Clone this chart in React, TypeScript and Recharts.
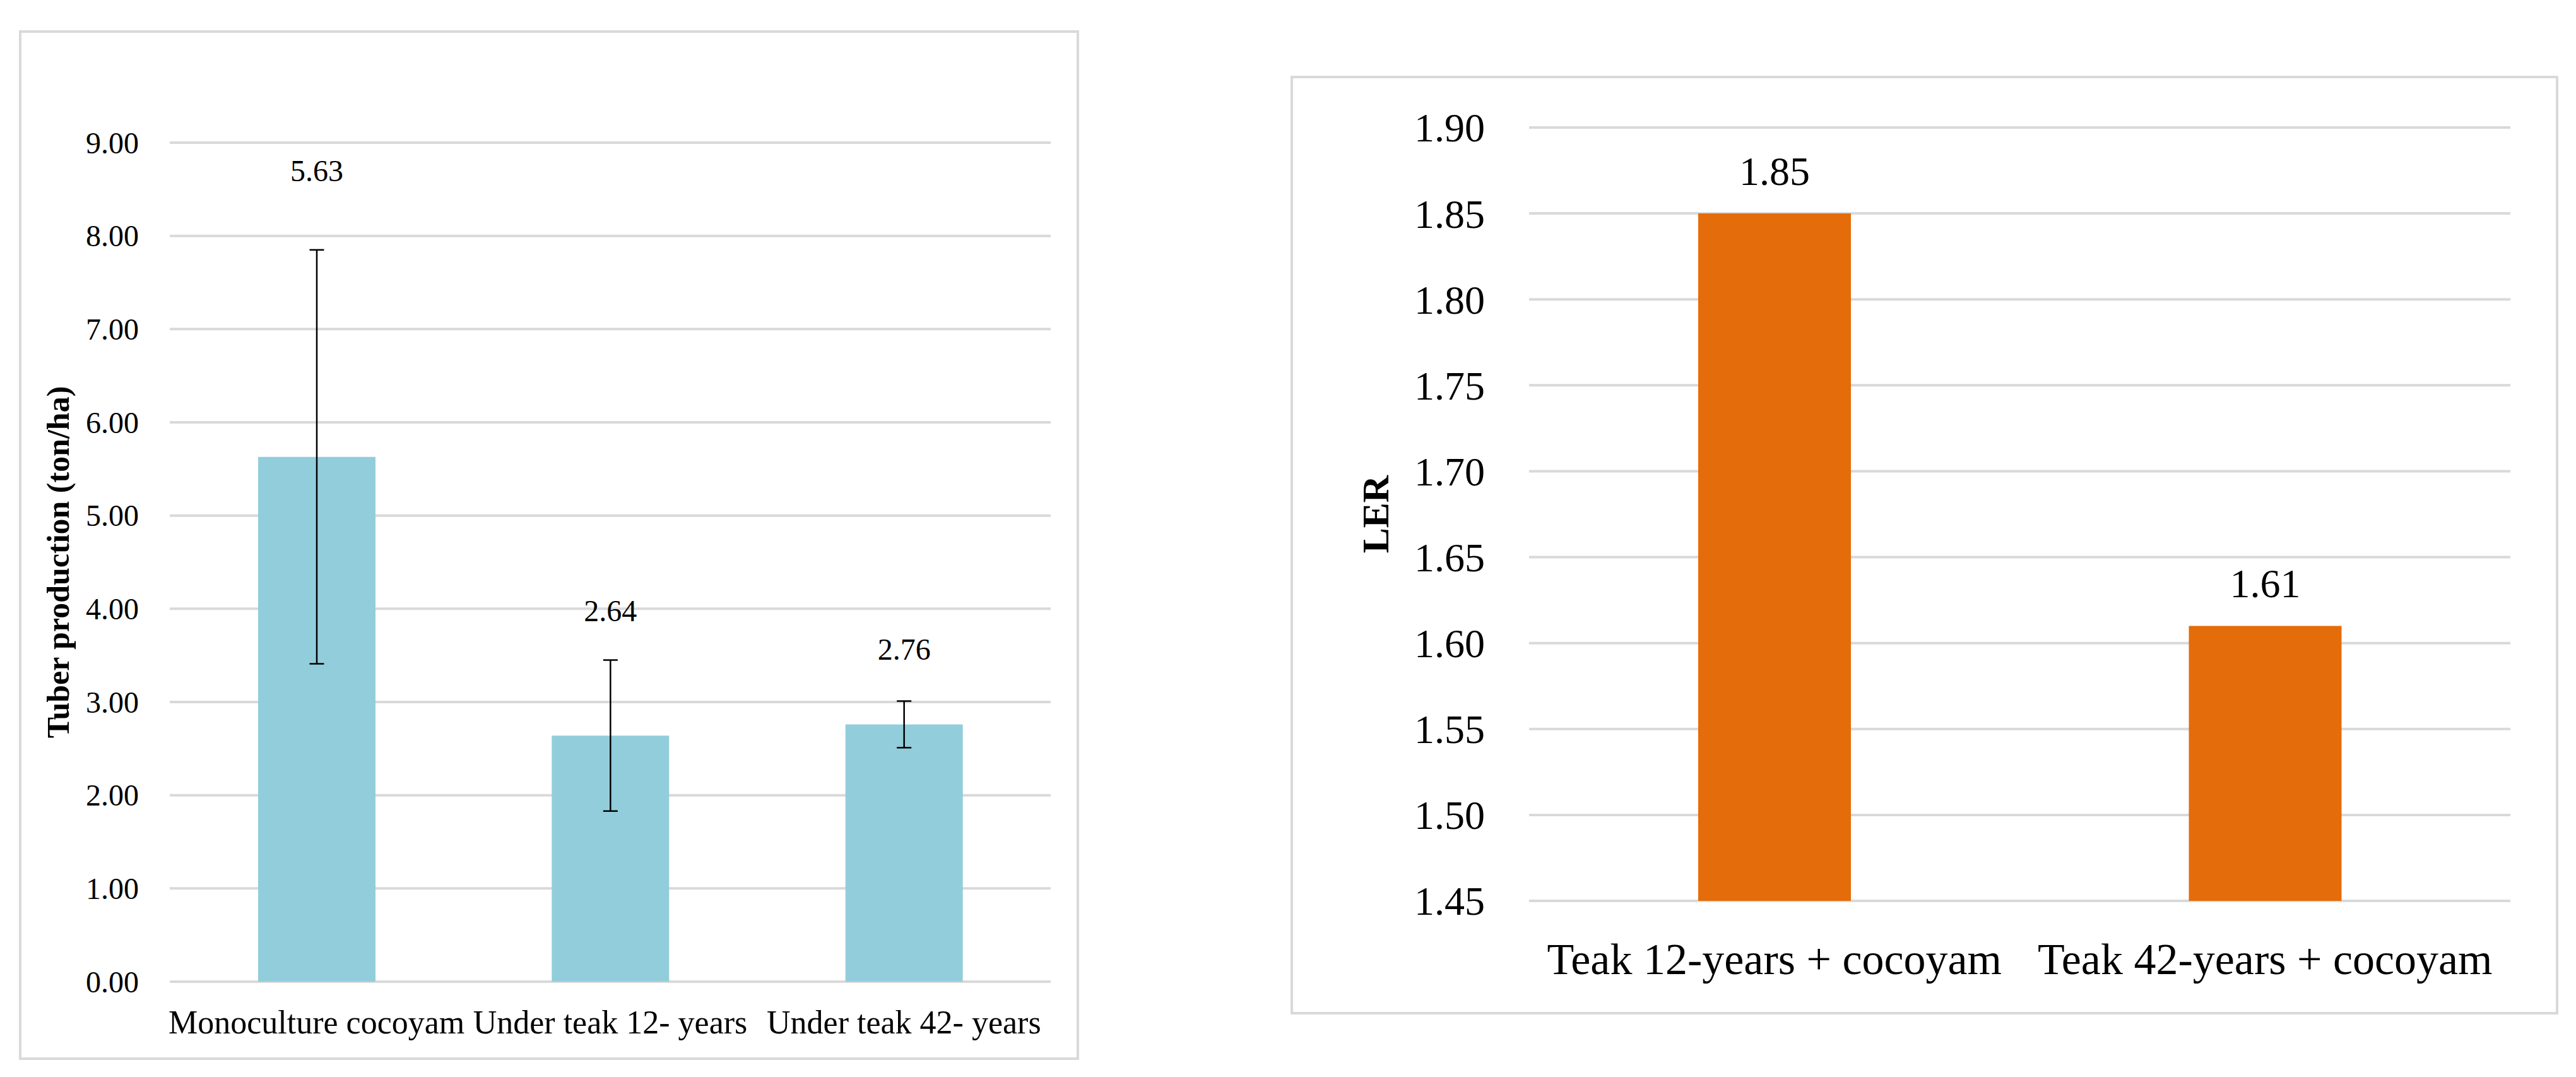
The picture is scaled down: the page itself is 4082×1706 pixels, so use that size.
import React from 'react';
import { BarChart, Bar, XAxis, YAxis, CartesianGrid, ErrorBar, LabelList } from 'recharts';

document.body.style.margin = '0';

// left panel: tuber production
const tuberCategories = ['Monoculture cocoyam', 'Under teak 12- years', 'Under teak 42- years'];
const tuberValues = [5.63, 2.64, 2.76];
const tuberErrors = [2.22, 0.81, 0.25];
const tuberTicks = [0, 1, 2, 3, 4, 5, 6, 7, 8, 9];

// right panel: land equivalent ratio
const lerCategories = ['Teak 12-years + cocoyam', 'Teak 42-years + cocoyam'];
const lerValues = [1.85, 1.61];
const lerTicks = [1.45, 1.5, 1.55, 1.6, 1.65, 1.7, 1.75, 1.8, 1.85, 1.9];

const FONT = '"Liberation Serif", "Times New Roman", serif';
const GRID = '#D9D9D9';

const tuberData = tuberCategories.map((name, i) => ({ name, value: tuberValues[i], err: tuberErrors[i] }));
const lerData = lerCategories.map((name, i) => ({ name, value: lerValues[i] }));

// the labels on the left sit at hand-moved heights above the error bars
const tuberLabelGap = [126, 78, 82];

const xTick = (fontSize: number, dy: number) => (props: any) => (
  <text x={props.x} y={props.y + dy} textAnchor="middle" fontSize={fontSize} fontFamily={FONT} fill="#000">
    {props.payload.value}
  </text>
);

const yTick = (fontSize: number) => (props: any) => (
  <text x={props.x} y={props.y} dy="0.35em" textAnchor="end" fontSize={fontSize} fontFamily={FONT} fill="#000">
    {Number(props.payload.value).toFixed(2)}
  </text>
);

const yTitle = (text: string, x: number, fontSize: number) => (props: any) => {
  const vb = props.viewBox || {};
  const cy = vb.y + vb.height / 2;
  return (
    <text
      x={x}
      y={cy}
      transform={`rotate(-90 ${x} ${cy})`}
      textAnchor="middle"
      dominantBaseline="central"
      fontSize={fontSize}
      fontWeight="bold"
      fontFamily={FONT}
      fill="#000"
    >
      {text}
    </text>
  );
};

const tuberLabel = (props: any) => {
  const { x, y, width, height, value, index } = props;
  const perUnit = height / value;
  const errTop = y - tuberErrors[index] * perUnit;
  return (
    <text
      x={x + width / 2}
      y={errTop - tuberLabelGap[index]}
      dy="0.35em"
      textAnchor="middle"
      fontSize={48}
      fontFamily={FONT}
      fill="#000"
    >
      {Number(value).toFixed(2)}
    </text>
  );
};

const lerLabel = (props: any) => {
  const { x, y, width, value } = props;
  return (
    <text x={x + width / 2} y={y - 68} dy="0.35em" textAnchor="middle" fontSize={64} fontFamily={FONT} fill="#000">
      {Number(value).toFixed(2)}
    </text>
  );
};

const frame = (left: number, top: number, width: number, height: number): React.CSSProperties => ({
  position: 'absolute',
  left,
  top,
  width,
  height,
  border: `4.5px solid ${GRID}`,
  boxSizing: 'border-box',
  background: '#fff',
});

export default function App() {
  return (
    <div style={{ position: 'relative', width: 4082, height: 1706, background: '#fff', overflow: 'hidden' }}>
      <div style={frame(30, 48, 1680, 1631)} />
      <div style={frame(2045, 120, 2009, 1487)} />

      <div style={{ position: 'absolute', left: 32, top: 50 }}>
        <BarChart width={1676} height={1627} data={tuberData} margin={{ top: 176, right: 43, bottom: 0, left: 0 }}>
          <CartesianGrid vertical={false} stroke={GRID} strokeWidth={4} />
          <XAxis
            dataKey="name"
            axisLine={false}
            tickLine={false}
            tickSize={0}
            tickMargin={0}
            height={122}
            interval={0}
            tick={xTick(52, 82)}
          />
          <YAxis
            domain={[0, 9]}
            ticks={tuberTicks}
            interval={0}
            axisLine={false}
            tickLine={false}
            tickSize={0}
            tickMargin={49}
            width={237}
            tick={yTick(48)}
            label={{ content: yTitle('Tuber production (ton/ha)', 60, 50) }}
          />
          <Bar dataKey="value" fill="#92CDDC" barSize={186} isAnimationActive={false}>
            <ErrorBar dataKey="err" direction="y" width={11.5} stroke="#000" strokeWidth={2.5} />
            <LabelList dataKey="value" content={tuberLabel} />
          </Bar>
        </BarChart>
      </div>

      <div style={{ position: 'absolute', left: 2047, top: 122 }}>
        <BarChart width={2005} height={1483} data={lerData} margin={{ top: 80, right: 74, bottom: 0, left: 0 }}>
          <CartesianGrid vertical={false} stroke={GRID} strokeWidth={4} />
          <XAxis
            dataKey="name"
            axisLine={false}
            tickLine={false}
            tickSize={0}
            tickMargin={0}
            height={178}
            interval={0}
            tick={xTick(70, 116)}
          />
          <YAxis
            domain={[1.45, 1.9]}
            ticks={lerTicks}
            interval={0}
            axisLine={false}
            tickLine={false}
            tickSize={0}
            tickMargin={70}
            width={376}
            tick={yTick(64)}
            label={{ content: yTitle('LER', 133, 60) }}
          />
          <Bar dataKey="value" fill="#E46C0A" barSize={242} isAnimationActive={false}>
            <LabelList dataKey="value" content={lerLabel} />
          </Bar>
        </BarChart>
      </div>
    </div>
  );
}
